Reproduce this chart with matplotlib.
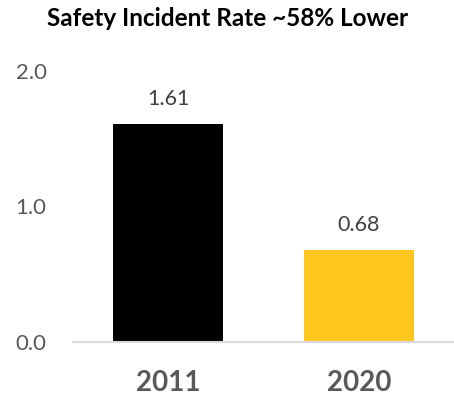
import matplotlib
matplotlib.use("Agg")
import matplotlib.pyplot as plt

years = ["2011", "2020"]
rates = [1.61, 0.68]
colors = ["#000000", "#FFC61E"]
yticks = [0.0, 1.0, 2.0]

plt.rcParams['font.family'] = ['Lato', 'DejaVu Sans']

fig = plt.figure(figsize=(4.54, 3.98), dpi=100)
ax = fig.add_axes([73/454, 1 - 342/398, 381/454, (342 - 71)/398])

x = range(len(years))
ax.bar(x, rates, width=0.58, color=colors)

for i, v in zip(x, rates):
    ax.annotate("%.2f" % v, (i, v), xytext=(0, 11), textcoords="offset points",
                ha="center", va="bottom", fontsize=15.5, color="#404040")

ax.set_xlim(-0.5, 1.5)
ax.set_ylim(0, 2.0)
ax.set_yticks(yticks)
ax.set_yticklabels(["%.1f" % t for t in yticks], fontsize=16, color="#595959")
ax.set_xticks(list(x))
ax.set_xticklabels(years, fontsize=20, fontweight="bold", color="#595959")
ax.tick_params(axis="both", length=0)
ax.tick_params(axis="y", pad=19)
ax.tick_params(axis="x", pad=20)

for s in ["top", "right", "left"]:
    ax.spines[s].set_visible(False)
ax.spines["bottom"].set_color("#D9D9D9")
ax.spines["bottom"].set_linewidth(1.5)

fig.text(228/454, 1 - 19/398, "Safety Incident Rate ~58% Lower", ha="center", va="center",
         fontsize=17.5, fontweight="bold", color="#000000")

fig.savefig("out.png", dpi=100)
